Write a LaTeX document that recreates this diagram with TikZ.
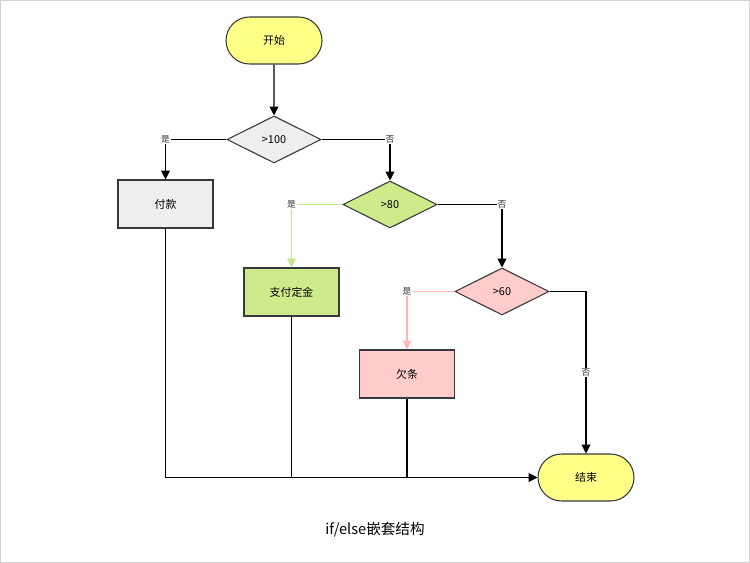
\documentclass[tikz,border=0pt]{standalone}
\usepackage{fontspec}
\setmainfont{Noto Sans CJK SC}
\usetikzlibrary{shapes.geometric,shapes.misc,arrows.meta}
\definecolor{yel}{HTML}{FFFF88}
\definecolor{gry}{HTML}{EEEEEE}
\definecolor{grn}{HTML}{CDEB8B}
\definecolor{grnl}{HTML}{C5E88A}
\definecolor{pnk}{HTML}{FFCCCC}
\definecolor{pnkl}{HTML}{FFB8B8}
\definecolor{bd}{HTML}{36393D}
\begin{document}
\begin{tikzpicture}[x=0.02cm,y=-0.02cm,
  base/.style={draw=bd,line width=0.6pt,font=\fontsize{6.2}{7}\selectfont,inner sep=0pt},
  term/.style={base,rounded rectangle,fill=yel,minimum width=1.92cm,minimum height=0.94cm},
  box/.style={base,rectangle,minimum width=1.9cm,minimum height=0.96cm},
  dia/.style={base,diamond,aspect=2,minimum width=1.88cm,minimum height=0.94cm},
  ln/.style={line width=0.6pt,draw=black},
  ar/.style={ln,-{Triangle[length=5pt,width=5pt]}},
  lab/.style={font=\fontsize{5}{6}\selectfont,fill=white,inner sep=0.5pt,text=black!80}]
\useasboundingbox (0,0) rectangle (750,563);
\draw[gray!35,line width=1pt] (0,0) rectangle (750,563);
\node[term] (s) at (274,40.5) {开始};
\node[dia,fill=gry] (d1) at (274,139.5) {>100};
\node[box,fill=gry] (p) at (165.5,204) {付款};
\node[dia,fill=grn] (d2) at (390,204.5) {>80};
\node[box,fill=grn] (z) at (291.5,292) {支付定金};
\node[dia,fill=pnk] (d3) at (502,291.5) {>60};
\node[box,fill=pnk] (q) at (407,374) {欠条};
\node[term] (e) at (586,477.5) {结束};
\node[font=\fontsize{8.3}{10}\selectfont] (cap) at (375,530) {if/else嵌套结构};
\coordinate (j) at (165.5,477.5);
\draw[ar] (s) -- (d1);
\draw[ar] (d1.west) -| node[lab,pos=0.5]{是} (p.north);
\draw[ar] (d1.east) -| node[lab,pos=0.5]{否} (d2.north);
\draw[ar,draw=grnl,color=grnl] (d2.west) -| node[lab,pos=0.5]{是} (z.north);
\draw[ar] (d2.east) -| node[lab,pos=0.5]{否} (d3.north);
\draw[ar,color=pnkl] (d3.west) -| node[lab,pos=0.5]{是} (q.north);
\draw[ar] (d3.east) -| node[lab,pos=0.75]{否} (e.north);
\draw[ar] (p.south) |- (e.west);
\draw[ln] (z.south) -- (z.south |- j);
\draw[ln] (q.south) -- (q.south |- j);
\end{tikzpicture}
\end{document}
